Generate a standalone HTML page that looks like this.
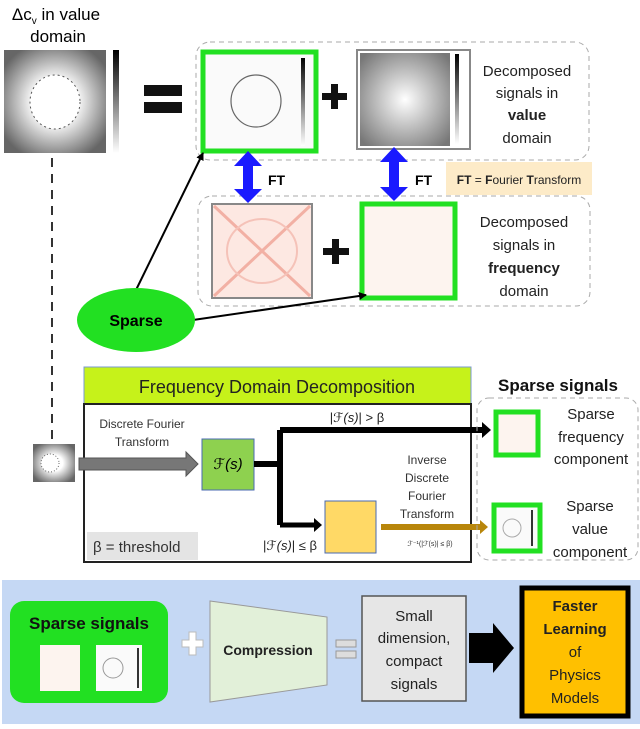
<!DOCTYPE html>
<html><head><meta charset="utf-8"><style>
body{margin:0;width:640px;height:724px;overflow:hidden;background:#fff;font-family:"Liberation Sans",sans-serif;}
svg text{font-family:"Liberation Sans","DejaVu Sans",sans-serif;}
</style></head><body>
<svg width="640" height="724" viewBox="0 0 640 724" xmlns="http://www.w3.org/2000/svg">
<defs>
<radialGradient id="g1" cx="50%" cy="50%" r="60%"><stop offset="0.35" stop-color="#fff"/><stop offset="1" stop-color="#666"/></radialGradient>
<radialGradient id="g2" cx="50%" cy="50%" r="65%"><stop offset="0" stop-color="#fff"/><stop offset="1" stop-color="#777"/></radialGradient>
<linearGradient id="cb" x1="0" y1="0" x2="0" y2="1"><stop offset="0" stop-color="#000"/><stop offset="1" stop-color="#fff"/></linearGradient>
<marker id="ah" markerWidth="8" markerHeight="8" refX="7" refY="4" orient="auto" markerUnits="userSpaceOnUse"><path d="M0,0 L8,4 L0,8z" fill="#000"/></marker>
</defs>
<!-- title -->
<text x="56" y="20" font-size="17" text-anchor="middle">Δc<tspan font-size="10" dy="4">v</tspan><tspan dy="-4"> in value</tspan></text>
<text x="58" y="42" font-size="17" text-anchor="middle">domain</text>
<!-- left image -->
<rect x="4" y="50" width="102" height="103" fill="url(#g1)"/>
<ellipse cx="55" cy="102" rx="25" ry="27" fill="#fff" stroke="#555" stroke-dasharray="2,3"/>
<rect x="113" y="50" width="6" height="103" fill="url(#cb)"/>
<!-- equals -->
<rect x="144" y="85" width="38" height="11" fill="#111"/><rect x="144" y="102" width="38" height="11" fill="#111"/>
<!-- dashed boxes -->
<rect x="196" y="42" width="393" height="118" rx="14" fill="none" stroke="#aaa" stroke-dasharray="5,4"/>
<rect x="198" y="196" width="392" height="110" rx="14" fill="none" stroke="#aaa" stroke-dasharray="5,4"/>
<!-- green box 1 -->
<rect x="203" y="52" width="113" height="99" fill="#fafafa" stroke="#22e022" stroke-width="5"/>
<ellipse cx="256" cy="101" rx="25" ry="26" fill="none" stroke="#666" stroke-width="1.2"/>
<rect x="301" y="58" width="4" height="88" fill="url(#cb)"/>
<!-- plus 1 -->
<rect x="322" y="93" width="25" height="7" fill="#111"/><rect x="331" y="84" width="7" height="25" fill="#111"/>
<!-- image 2 -->
<rect x="357" y="50" width="113" height="99" fill="#fff" stroke="#888" stroke-width="2"/>
<rect x="360" y="53" width="90" height="93" fill="url(#g2)"/>
<rect x="455" y="54" width="4" height="90" fill="url(#cb)"/>
<g font-size="15" text-anchor="middle" fill="#222">
<text x="527" y="76">Decomposed</text><text x="527" y="98">signals in</text>
<text x="527" y="120" font-weight="bold">value</text><text x="527" y="143">domain</text>
<text x="524" y="227">Decomposed</text><text x="524" y="250">signals in</text>
<text x="524" y="273" font-weight="bold">frequency</text><text x="524" y="296">domain</text>
</g>
<!-- blue arrows -->
<g fill="#1a1aff">
<path d="M248,151 L262,166 L253,166 L253,189 L262,189 L248,203 L234,189 L243,189 L243,166 L234,166z"/>
<path d="M394,147 L408,162 L399,162 L399,187 L408,187 L394,201 L380,187 L389,187 L389,162 L380,162z"/>
</g>
<text x="268" y="185" font-size="14" font-weight="bold">FT</text>
<text x="415" y="185" font-size="14" font-weight="bold">FT</text>
<rect x="446" y="162" width="146" height="33" fill="#fdebc8"/>
<text x="519" y="184" font-size="12" text-anchor="middle" fill="#222"><tspan font-weight="bold">FT</tspan> = <tspan font-weight="bold">F</tspan>ourier <tspan font-weight="bold">T</tspan>ransform</text>
<!-- red image -->
<rect x="212" y="204" width="100" height="94" fill="#fde8e2" stroke="#888" stroke-width="2"/>
<path d="M214,206 L310,296 M310,206 L214,296" stroke="#f2b0a4" stroke-width="3"/>
<ellipse cx="262" cy="251" rx="35" ry="32" fill="none" stroke="#f5c2b8" stroke-width="2"/>
<!-- plus 2 -->
<rect x="323" y="248" width="26" height="7" fill="#111"/><rect x="332" y="239" width="7" height="25" fill="#111"/>
<!-- green box 2 -->
<rect x="362" y="204" width="93" height="94" fill="#fdf4ef" stroke="#22e022" stroke-width="5"/>
<!-- dashed vertical -->
<line x1="52" y1="158" x2="52" y2="445" stroke="#333" stroke-width="2" stroke-dasharray="9,7"/>
<!-- Sparse ellipse & arrows -->
<line x1="136" y1="290" x2="203" y2="153" stroke="#000" stroke-width="2" marker-end="url(#ah)"/>
<line x1="193" y1="320" x2="366" y2="295" stroke="#000" stroke-width="2" marker-end="url(#ah)"/>
<ellipse cx="136" cy="320" rx="59" ry="32" fill="#22e022"/>
<text x="136" y="326" font-size="16" font-weight="bold" text-anchor="middle">Sparse</text>
<!-- FDD -->
<rect x="84" y="367" width="387" height="37" fill="#c6f21a" stroke="#7a9ad0"/>
<text x="277" y="393" font-size="18" text-anchor="middle" fill="#222">Frequency Domain Decomposition</text>
<rect x="84" y="404" width="387" height="158" fill="#fff" stroke="#222" stroke-width="2"/>
<text x="142" y="428" font-size="12" text-anchor="middle" fill="#333">Discrete Fourier</text>
<text x="142" y="446" font-size="12" text-anchor="middle" fill="#333">Transform</text>
<rect x="33" y="444" width="42" height="38" fill="url(#g1)"/>
<circle cx="50" cy="463" r="9" fill="#fff" stroke="#666" stroke-dasharray="1,2"/>
<path d="M79,458 L186,458 L186,452 L198,464 L186,476 L186,470 L79,470z" fill="#777" stroke="#555"/>
<rect x="202" y="439" width="52" height="51" fill="#8ed14f" stroke="#4a6ab0"/>
<text x="228" y="469" font-size="15" font-style="italic" text-anchor="middle" font-family="Liberation Serif">ℱ(s)</text>
<path d="M254,464 L280,464 M280,430 L280,525 M280,430 L482,430" stroke="#000" stroke-width="6" fill="none"/>
<path d="M482,422 L491,430 L482,438z" fill="#000"/>
<path d="M280,525 L315,525" stroke="#000" stroke-width="5"/>
<path d="M314,518 L322,525 L314,532z" fill="#000"/>
<text x="357" y="422" font-size="13" text-anchor="middle" fill="#222">|<tspan font-style="italic">ℱ(s)</tspan>| &gt; β</text>
<text x="290" y="550" font-size="13" text-anchor="middle" fill="#222">|<tspan font-style="italic">ℱ(s)</tspan>| ≤ β</text>
<rect x="325" y="501" width="51" height="52" fill="#ffd966" stroke="#4a6ab0"/>
<g font-size="12" text-anchor="middle" fill="#333">
<text x="427" y="464">Inverse</text><text x="427" y="482">Discrete</text><text x="427" y="500">Fourier</text><text x="427" y="518">Transform</text>
</g>
<path d="M381,524 L480,524 L480,520 L488,527 L480,534 L480,530 L381,530z" fill="#b8860b"/>
<text x="430" y="546" font-size="7" text-anchor="middle" fill="#333">ℱ⁻¹(|ℱ(s)| ≤ β)</text>
<rect x="87" y="532" width="111" height="28" fill="#e4e4e4"/>
<text x="93" y="552" font-size="15" fill="#333">β = threshold</text>
<!-- sparse signals -->
<text x="558" y="391" font-size="17" font-weight="bold" text-anchor="middle" fill="#111">Sparse signals</text>
<rect x="477" y="398" width="161" height="162" rx="12" fill="none" stroke="#aaa" stroke-dasharray="5,4"/>
<rect x="496" y="412" width="42" height="43" fill="#fdf4ef" stroke="#22e022" stroke-width="5"/>
<rect x="494" y="505" width="46" height="46" fill="#fafafa" stroke="#22e022" stroke-width="5"/>
<circle cx="512" cy="528" r="9" fill="none" stroke="#aaa"/>
<rect x="531" y="510" width="2" height="36" fill="#333"/>
<g font-size="15" text-anchor="middle" fill="#222">
<text x="591" y="419">Sparse</text><text x="591" y="442">frequency</text><text x="591" y="464">component</text>
<text x="590" y="511">Sparse</text><text x="590" y="534">value</text><text x="590" y="557">component</text>
</g>
<!-- bottom panel -->
<rect x="2" y="580" width="638" height="144" fill="#c5d8f4"/>
<rect x="10" y="601" width="158" height="102" rx="14" fill="#22e022"/>
<text x="89" y="629" font-size="17" font-weight="bold" text-anchor="middle" fill="#111">Sparse signals</text>
<rect x="40" y="645" width="40" height="46" fill="#fdf4ef"/>
<rect x="96" y="645" width="46" height="46" fill="#fafafa"/>
<circle cx="113" cy="668" r="10" fill="none" stroke="#999"/>
<rect x="137" y="648" width="2" height="40" fill="#333"/>
<path d="M182,640 h7 v-8 h7 v8 h7 v7 h-7 v8 h-7 v-8 h-7z" fill="#fff" stroke="#bbb"/>
<path d="M210,601 L327,617 L327,685 L210,702z" fill="#e2f0d9" stroke="#999"/>
<text x="268" y="655" font-size="14" font-weight="bold" text-anchor="middle" fill="#222">Compression</text>
<rect x="336" y="640" width="20" height="7" fill="#ddd" stroke="#999"/>
<rect x="336" y="651" width="20" height="7" fill="#ddd" stroke="#999"/>
<rect x="362" y="596" width="104" height="105" fill="#e6e6e6" stroke="#555" stroke-width="1.5"/>
<g font-size="15" text-anchor="middle" fill="#222">
<text x="414" y="621">Small</text><text x="414" y="643">dimension,</text><text x="414" y="666">compact</text><text x="414" y="689">signals</text>
</g>
<path d="M469,633 L493,633 L493,623 L514,648 L493,673 L493,663 L469,663z" fill="#000"/>
<rect x="522" y="588" width="106" height="128" fill="#ffc000" stroke="#000" stroke-width="5"/>
<g font-size="15" text-anchor="middle" fill="#222">
<text x="575" y="611" font-weight="bold">Faster</text><text x="575" y="634" font-weight="bold">Learning</text>
<text x="575" y="657">of</text><text x="575" y="680">Physics</text><text x="575" y="703">Models</text>
</g>
</svg>
</body></html>
